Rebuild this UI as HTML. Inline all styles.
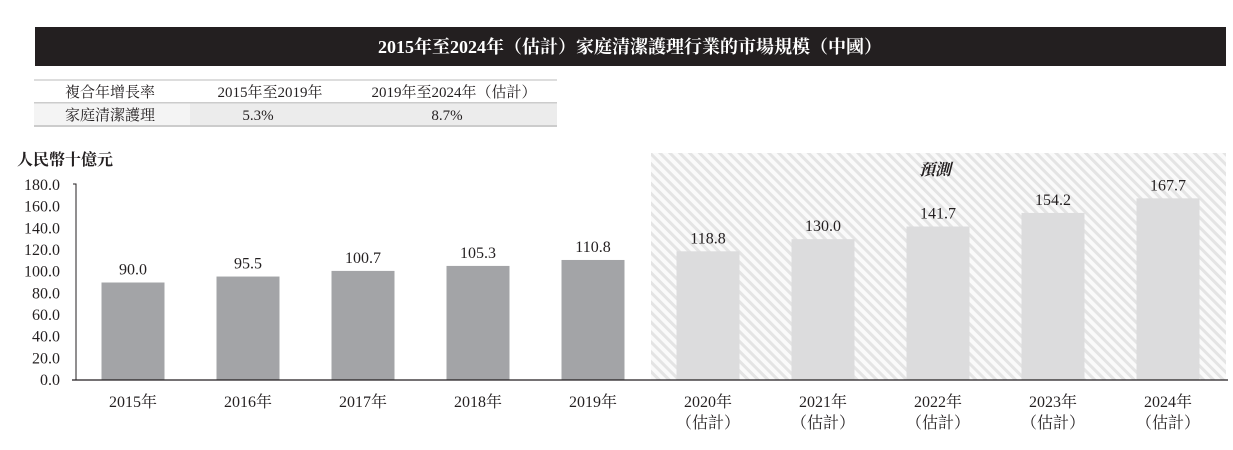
<!DOCTYPE html>
<html><head><meta charset="utf-8"><style>
body{margin:0;background:#fff;width:1233px;height:445px;overflow:hidden;font-family:"Liberation Serif","Noto Serif CJK SC",serif;}
</style></head><body>
<svg width="1233" height="445" xmlns="http://www.w3.org/2000/svg" font-family="'Liberation Serif','Noto Serif CJK SC',serif">
<defs><pattern id="hatch" width="7" height="7" patternUnits="userSpaceOnUse" patternTransform="rotate(-45)"><rect width="7" height="7" fill="#fafafa"/><rect width="3" height="7" fill="#e4e4e4"/></pattern></defs>
<rect x="35" y="27" width="1191" height="39" fill="#231f20"/>
<text x="630" y="53" fill="#fff" font-size="18" font-weight="bold" text-anchor="middle">2015年至2024年（估計）家庭清潔護理行業的市場規模（中國）</text>
<g font-size="15" fill="#231f20">
<rect x="34" y="79" width="523" height="2" fill="#ddd"/>
<rect x="34" y="103" width="523" height="23" fill="#ececec"/>
<rect x="34" y="103" width="156" height="23" fill="#f4f4f4"/>
<rect x="34" y="102" width="523" height="1.5" fill="#ccc"/>
<rect x="34" y="125" width="523" height="2" fill="#ccc"/>
<text x="110" y="97" text-anchor="middle">複合年增長率</text>
<text x="270" y="97" text-anchor="middle">2015年至2019年</text>
<text x="454" y="97" text-anchor="middle">2019年至2024年（估計）</text>
<text x="110" y="120" text-anchor="middle">家庭清潔護理</text>
<text x="258" y="120" text-anchor="middle">5.3%</text>
<text x="447" y="120" text-anchor="middle">8.7%</text>
</g>
<text x="17" y="165" font-size="16" font-weight="bold" fill="#231f20">人民幣十億元</text>
<rect x="651" y="153" width="575" height="227" fill="url(#hatch)"/>
<text x="935" y="175" font-size="16" font-weight="bold" font-style="italic" text-anchor="middle" fill="#231f20">預測</text>
<g id="chart"></g>
</svg>
<script>
const categories=["2015年","2016年","2017年","2018年","2019年","2020年","2021年","2022年","2023年","2024年"];
const values=[90.0,95.5,100.7,105.3,110.8,118.8,130.0,141.7,154.2,167.7];
const forecast=[false,false,false,false,false,true,true,true,true,true];
const yTicks=[0,20,40,60,80,100,120,140,160,180];
const NS="http://www.w3.org/2000/svg";
const g=document.getElementById('chart');
const y0=380,yTop=185,yMax=180;
const y=v=>y0-(v/yMax)*(y0-yTop);
const x=i=>133+i*115;
function mk(t,a){const e=document.createElementNS(NS,t);for(const k in a)e.setAttribute(k,a[k]);g.appendChild(e);return e;}
yTicks.forEach(t=>{const e=mk('text',{x:60,y:y(t)+5,'font-size':16,'text-anchor':'end',fill:'#231f20'});


e.textContent=t.toFixed(1);});
values.forEach((v,i)=>{
const b=mk('rect',{x:x(i)-31.5,y:y(v),width:63,height:y0-y(v),fill:forecast[i]?'#dcdcdd':'#a3a4a7'});


const l=mk('text',{x:x(i),y:y(v)-8,'font-size':16,'text-anchor':'middle',fill:'#231f20'});


l.textContent=v.toFixed(1);
const c=mk('text',{x:x(i),y:407,'font-size':16,'text-anchor':'middle',fill:'#231f20'});


c.textContent=categories[i];
if(forecast[i]){const c2=mk('text',{x:x(i),y:428,'font-size':16,'text-anchor':'middle',fill:'#231f20'});


c2.textContent='（估計）';}
});
const ya=mk('path',{d:`M73 ${yTop-1} H76 V${y0}`,stroke:'#231f20','stroke-width':1,fill:'none'});


const xa=mk('line',{x1:72,x2:1228,y1:y0,y2:y0,stroke:'#231f20','stroke-width':1.2});


</script>
</body></html>
